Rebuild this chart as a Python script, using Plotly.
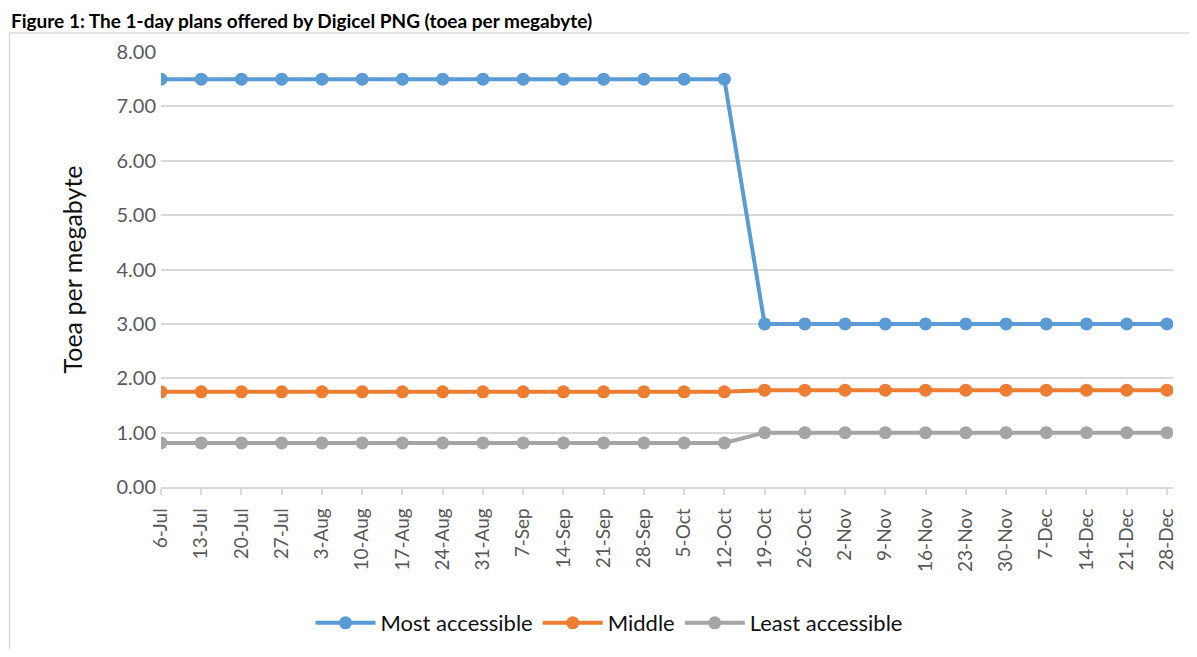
import plotly.graph_objects as go

dates = ["6-Jul", "13-Jul", "20-Jul", "27-Jul", "3-Aug", "10-Aug", "17-Aug", "24-Aug",
         "31-Aug", "7-Sep", "14-Sep", "21-Sep", "28-Sep", "5-Oct", "12-Oct", "19-Oct",
         "26-Oct", "2-Nov", "9-Nov", "16-Nov", "23-Nov", "30-Nov", "7-Dec", "14-Dec",
         "21-Dec", "28-Dec"]
most_accessible = [7.5] * 15 + [3.0] * 11
middle = [1.75] * 15 + [1.78] * 11
least_accessible = [0.81] * 15 + [1.0] * 11

series = [
    ("Most accessible", most_accessible, "#5B9BD5"),
    ("Middle", middle, "#ED7D31"),
    ("Least accessible", least_accessible, "#A5A5A5"),
]

FONT = "Lato"
# page has an 8px body margin; figure sized to fit inside the window
OFF = 8
W, H = 1197 - 2 * OFF, 657 - 2 * OFF
PL, PR, PT, PB = 161, 1173, 52, 487  # plot area in page pixels
L, T = PL - OFF, PT - OFF
R = W - L - (PR - PL)
B = H - T - (PB - PT)
pw, ph = PR - PL, PB - PT


def px_x(p):
    return (p - PL) / pw


def px_y(p):
    return (PB - p) / ph


fig = go.Figure()
for name, vals, col in series:
    fig.add_trace(go.Scatter(
        x=dates, y=vals, name=name, mode="lines+markers",
        line=dict(color=col, width=4),
        marker=dict(color=col, size=13),
    ))

fig.update_layout(
    width=W, height=H,
    margin=dict(l=L, r=R, t=T, b=B, autoexpand=False),
    paper_bgcolor="white", plot_bgcolor="white",
    font=dict(family=FONT, color="#595959", size=19),
    showlegend=True,
    legend=dict(orientation="h", x=px_x(609), xanchor="center", y=px_y(623), yanchor="middle",
                font=dict(size=22, color="#111111", family=FONT),
                itemwidth=60, tracegroupgap=0, bgcolor="rgba(0,0,0,0)"),
    xaxis=dict(type="category", range=[0, 25.15], showgrid=False,
               showline=True, linecolor="#d9d9d9", linewidth=1.5,
               ticks="outside", ticklen=6, tickcolor="#d9d9d9", tickwidth=1.5,
               ticklabelstandoff=6,
               tickangle=-90, tickfont=dict(size=19, color="#595959", family=FONT),
               fixedrange=True),
    yaxis=dict(range=[0, 8], dtick=1, tickformat=".2f", showgrid=True,
               gridcolor="#d9d9d9", gridwidth=1.5, zeroline=False, showline=False,
               ticks="", ticklabelstandoff=4,
               tickfont=dict(size=20, color="#595959", family=FONT),
               title=dict(text="Toea per megabyte", font=dict(size=25, color="#111111", family=FONT),
                          standoff=26),
               fixedrange=True),
    shapes=[dict(type="rect", xref="paper", yref="paper",
                 x0=px_x(9.5), x1=px_x(1260), y0=px_y(720), y1=px_y(33),
                 line=dict(color="#d9d9d9", width=1.5), fillcolor="rgba(0,0,0,0)",
                 layer="below")],
    annotations=[dict(text="<b>Figure 1: The 1-day plans offered by Digicel PNG (toea per megabyte)</b>",
                      xref="paper", yref="paper", x=px_x(OFF + 1), xanchor="left",
                      y=px_y(20), yanchor="middle", showarrow=False,
                      font=dict(size=19, color="#000000", family=FONT))],
)

fig.write_html("out.html")
